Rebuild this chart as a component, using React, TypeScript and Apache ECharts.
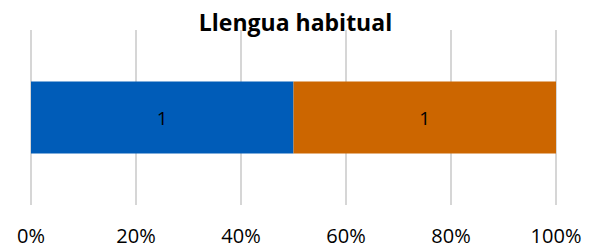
import React, { useEffect, useRef } from "react";
import * as echarts from "echarts";

const categories = ["Llengua habitual"];
const seriesNames = ["Sèrie 1", "Sèrie 2"];
const seriesA = [1];
const seriesB = [1];
const colors = ["#005CB8", "#CC6600"];

export default function App() {
  const ref = useRef<HTMLDivElement>(null);
  useEffect(() => {
    if (!ref.current) return;
    const chart = echarts.init(ref.current, null, { renderer: "svg" });
    const totals = categories.map((_, i) => seriesA[i] + seriesB[i]);
    const pct = (arr: number[]) =>
      arr.map((v, i) => ({ value: (v / totals[i]) * 100, raw: v }));
    const font = "Open Sans, Liberation Sans, sans-serif";
    chart.setOption({
      animation: false,
      title: {
        text: "Llengua habitual",
        left: "center",
        top: 5,
        textStyle: { fontFamily: font, fontWeight: "bold", fontSize: 23, color: "#000" },
      },
      grid: { left: 31, right: 35, top: 30, bottom: 45, containLabel: false },
      xAxis: {
        type: "value",
        min: 0,
        max: 100,
        interval: 20,
        axisLine: { show: false },
        axisTick: { show: false },
        splitLine: { show: true, lineStyle: { color: "#C8C8C8", width: 1.5 } },
        axisLabel: {
          formatter: "{value}%",
          margin: 20,
          fontFamily: font,
          fontSize: 20,
          color: "#000",
        },
      },
      yAxis: {
        type: "category",
        data: categories,
        show: false,
      },
      series: [seriesA, seriesB].map((arr, k) => ({
        name: seriesNames[k],
        type: "bar",
        stack: "total",
        barWidth: 72,
        itemStyle: { color: colors[k] },
        label: {
          show: true,
          position: "inside",
          formatter: (p: any) => String(p.data.raw),
          fontFamily: font,
          fontSize: 19,
          color: "#000",
        },
        data: pct(arr),
      })),
    });
    return () => chart.dispose();
  }, []);
  return (
    <div
      ref={ref}
      style={{ position: "fixed", left: 0, top: 0, width: 591, height: 250, background: "#fff" }}
    />
  );
}
